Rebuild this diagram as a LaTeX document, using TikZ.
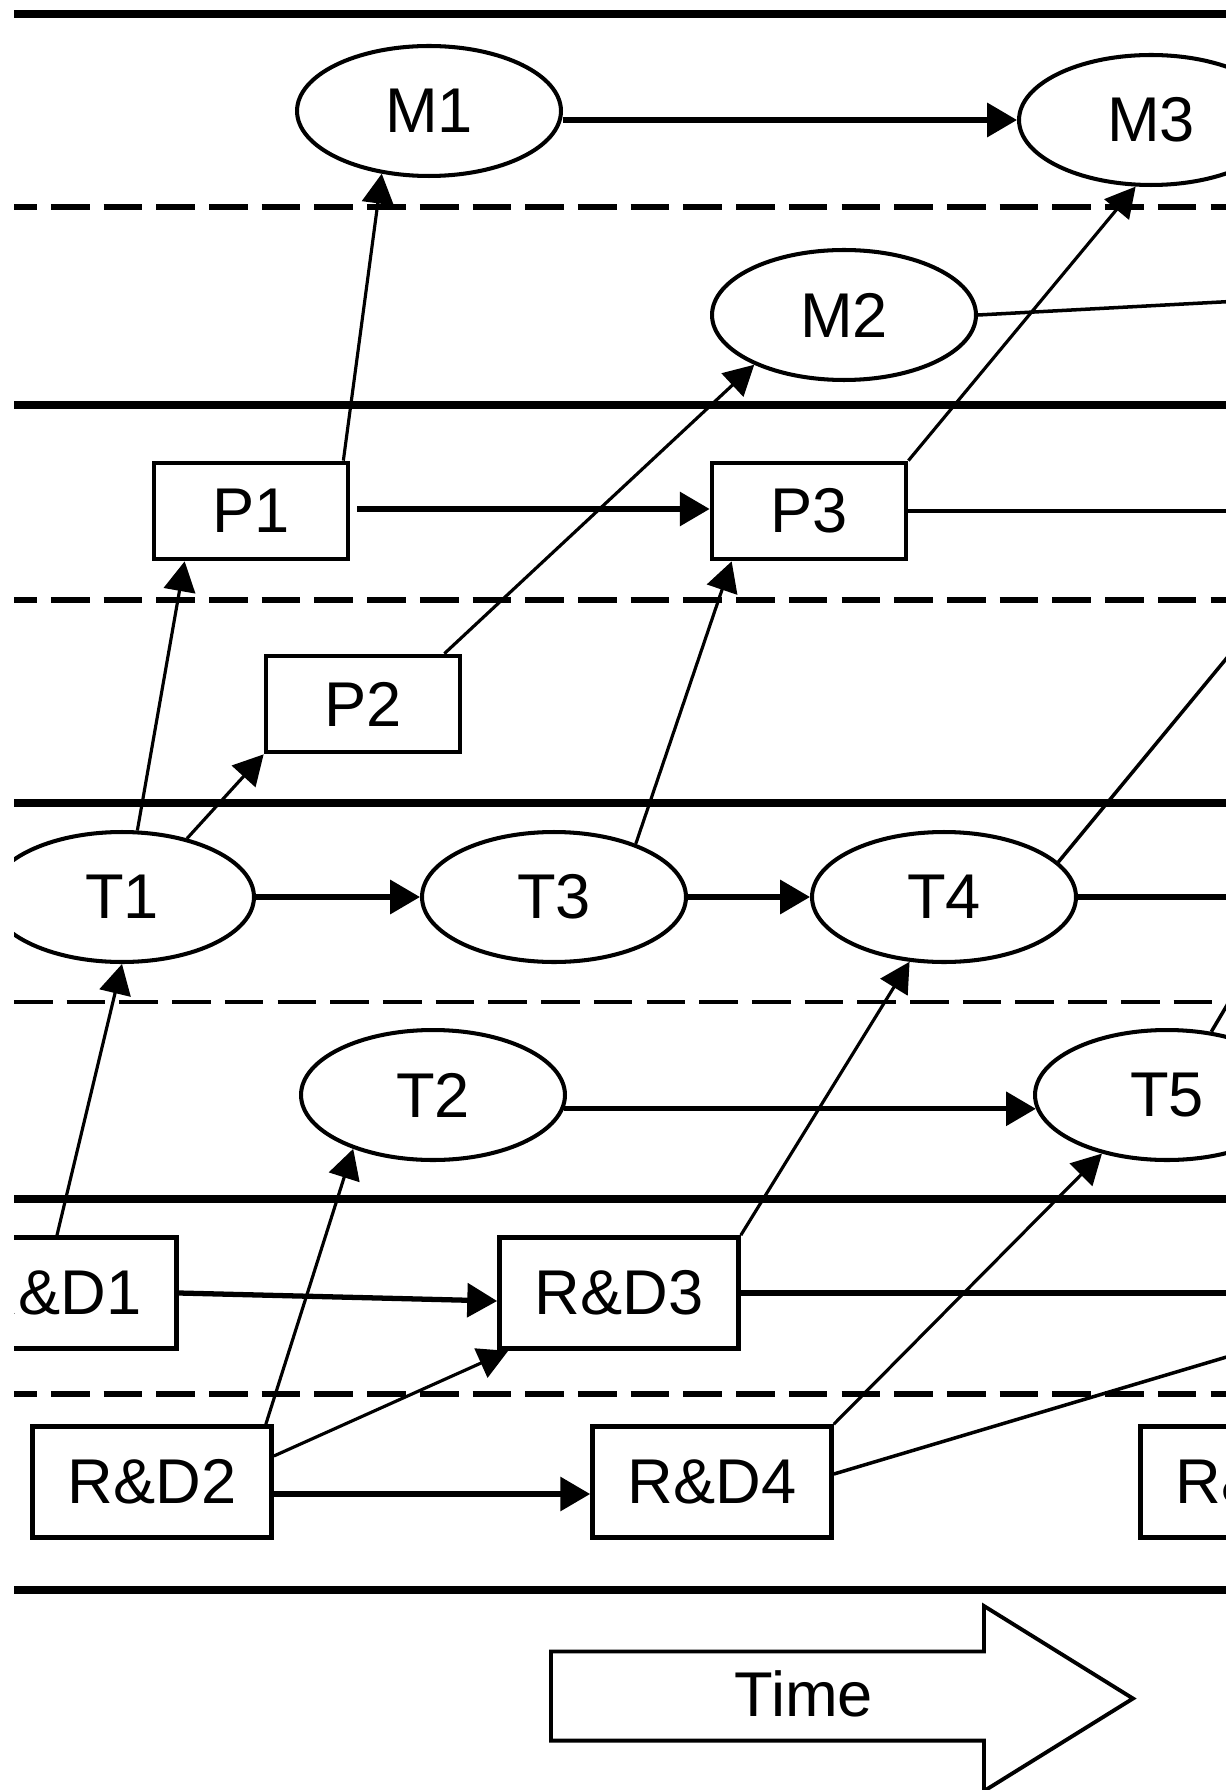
\documentclass[tikz,border=0pt]{standalone}
\usepackage{fontspec}
\setmainfont{Liberation Sans}
\usetikzlibrary{arrows.meta,calc,shapes.geometric}
\begin{document}
\begin{tikzpicture}[x=0.02cm,y=-0.02cm,
  band/.style={line width=5pt},
  dbandthick/.style={line width=3.9pt, dash pattern=on 22pt off 8pt, dash phase=9pt},
  dbandthin/.style={line width=2.6pt, dash pattern=on 22pt off 8pt},
  lab/.style={font=\fontsize{36}{40}\selectfont},
  ell/.style={ellipse, draw, line width=2.3pt, minimum width=5.28cm, minimum height=2.6cm, inner sep=0pt, lab},
  pbox/.style={rectangle, draw, line width=2.7pt, minimum width=3.88cm, minimum height=1.92cm, inner sep=0pt, lab},
  rbox/.style={rectangle, draw, line width=2.7pt, minimum width=4.78cm, minimum height=2.22cm, inner sep=0pt, lab},
  harrow/.style={line width=3pt, -{Triangle[length=17pt,width=19pt]}},
  darrow/.style={line width=1.8pt, -{Triangle[length=17pt,width=18pt]}},
  hline/.style={line width=3pt},
  dline/.style={line width=2pt},
]
\useasboundingbox (0,0) rectangle (1225,1790);
\clip (14,-10) rectangle (1240,1800);

% horizontal band lines
\draw[band] (14,14) -- (1240,14);
\draw[dbandthick] (14,207) -- (1240,207);
\draw[band] (14,405) -- (1240,405);
\draw[dbandthick] (14,600) -- (1240,600);
\draw[band] (14,803) -- (1240,803);
\draw[dbandthin] (14,1002) -- (1240,1002);
\draw[band] (14,1199) -- (1240,1199);
\draw[dbandthick] (14,1394) -- (1240,1394);
\draw[band] (14,1590) -- (1240,1590);

% nodes
\node[ell] (M1) at (429,111) {M1};
\node[ell] (M3) at (1151,120) {M3};
\node[ell] (M2) at (844,315) {M2};
\node[pbox] (P1) at (251,511) {P1};
\node[pbox] (P3) at (809,511) {P3};
\node[pbox] (P2) at (363,704) {P2};
\node[ell] (T1) at (122,897) {T1};
\node[ell] (T3) at (554,897) {T3};
\node[ell] (T4) at (944,897) {T4};
\node[ell] (T2) at (433,1095) {T2};
\node[ell] (T5) at (1167,1095) {T5};
\node[rbox] (RD1) at (57,1293) {R\&D1};
\node[rbox] (RD3) at (619,1293) {R\&D3};
\node[rbox] (RD2) at (152,1482) {R\&D2};
\node[rbox] (RD4) at (712,1482) {R\&D4};
\node[rbox] (RD5) at (1260,1482) {R\&D5};

% free ends beyond the right edge
\coordinate (m2r) at (1240,301);
\coordinate (p3r) at (1240,511);
\coordinate (t4r) at (1240,897);
\coordinate (t4u) at (1240,642);
\coordinate (t5u) at (1236,990);
\coordinate (rd3r) at (1240,1293);
\coordinate (rd4u) at (1240,1353);

% connectors
\draw[harrow] (M1.east |- M3.west) -- (M3.west);
\draw[darrow] ($(P1.north east)+(-7,0)$) -- (M1.-127);
\draw[darrow] (P3.north east) -- (M3.-103);
\draw[darrow] ($(P2.north east)+(-18,0)$) -- (M2.-151);
\draw[dline] (M2.east) -- (m2r);
\draw[harrow] ($(P1.east)+(7,-2)$) -- ($(P3.west)+(0,-2)$);
\draw[dline] (P3.east) -- (p3r);
\draw[harrow] (T1.east) -- (T3.west);
\draw[harrow] (T3.east) -- (T4.west);
\draw[hline] (T4.east) -- (t4r);
\draw[darrow] (T1.77) -- ($(P1.south west)+(33,0)$);
\draw[darrow] (T1.42) -- (P2.south west);
\draw[darrow] (T3.33) -- ($(P3.south west)+(22,0)$);
\draw[dline] (T4.17) -- (t4u);
\draw[darrow] (RD1.north) -- (T1.south);
\draw[darrow] ($(RD2.north east)+(-8,0)$) -- (T2.-146);
\draw[darrow] (RD3.north east) -- (T4.-118);
\draw[darrow] (RD4.north east) -- (T5.-138);
\draw[harrow] (T2.-6) -- (T5.-174);
\draw[dline] (T5.55) -- (t5u);
\draw[harrow] (RD1.east) -- ($(RD3.west)+(0,8)$);
\draw[hline] (RD3.east) -- (rd3r);
\draw[harrow] ($(RD2.east)+(0,12)$) -- ($(RD4.west)+(0,12)$);
\draw[darrow] ($(RD2.east)+(0,-26)$) -- ($(RD3.south west)+(11,0)$);
\draw[dline] ($(RD4.east)+(0,-8)$) -- (rd4u);

% time arrow
\draw[line width=2.2pt, line join=miter] (551,1651.5) -- (984,1651.5) -- (984,1606) -- (1133,1698.5) -- (984,1791) -- (984,1740.6) -- (551,1740.6) -- cycle;
\node[lab] (time) at (804,1694) {Time};
\end{tikzpicture}
\end{document}
